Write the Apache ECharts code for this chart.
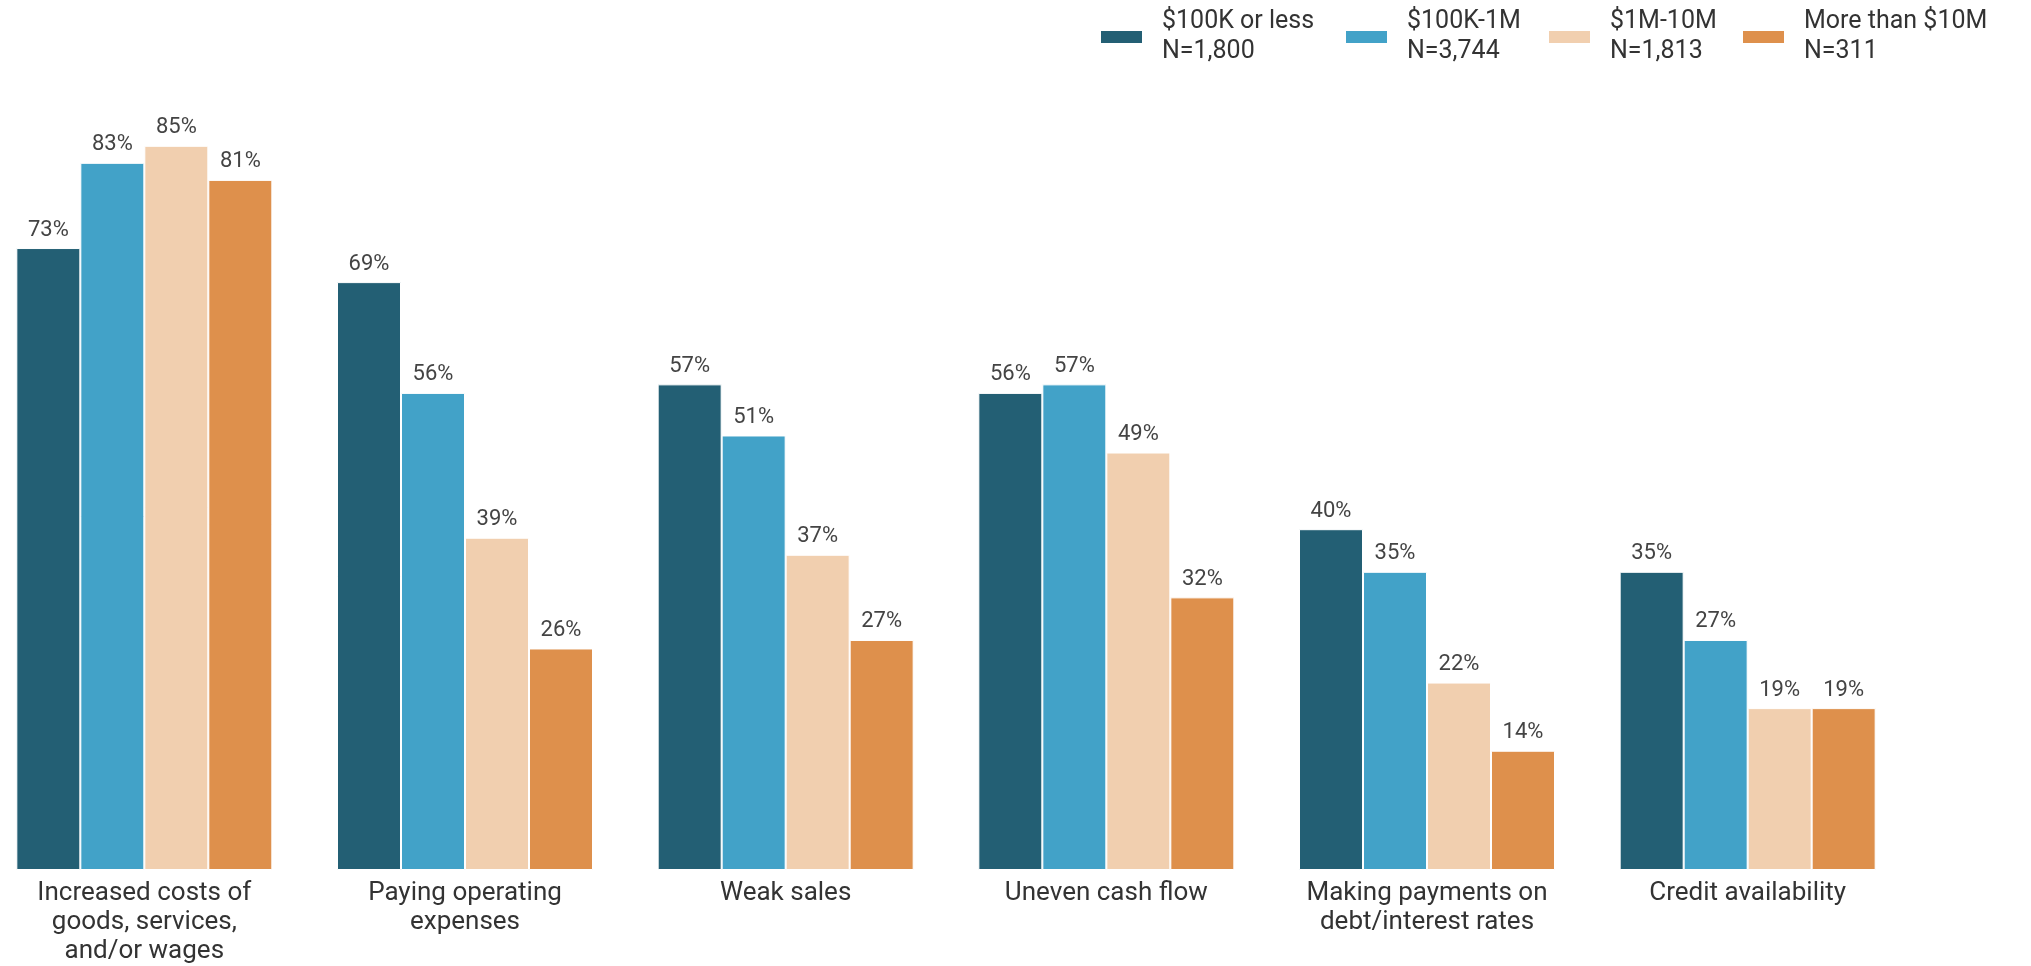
<!DOCTYPE html>
<html>
<head>
<meta charset="utf-8">
<script src="https://cdn.jsdelivr.net/npm/echarts@6/dist/echarts.min.js"></script>
<style>
html,body{margin:0;padding:0;background:#fff;overflow:hidden;width:2031px;height:966px;position:relative;}
#chart{position:absolute;left:-16px;top:0;width:2047px;height:966px;}
</style>
</head>
<body>
<div id="chart"></div>
<script>
const categories = [
  "Increased costs of\ngoods, services,\nand/or wages",
  "Paying operating\nexpenses",
  "Weak sales",
  "Uneven cash flow",
  "Making payments on\ndebt/interest rates",
  "Credit availability"
];
const seriesNames = ["$100K or less\nN=1,800", "$100K-1M\nN=3,744", "$1M-10M\nN=1,813", "More than $10M\nN=311"];
const upTo100K = [73, 69, 57, 56, 40, 35];
const from100KTo1M = [83, 56, 51, 57, 35, 27];
const from1MTo10M = [85, 39, 37, 49, 22, 19];
const over10M = [81, 26, 27, 32, 14, 19];

const colors = ["#235F74", "#42A2C8", "#F1CFAF", "#DE904C"];
const values = [upTo100K, from100KTo1M, from1MTo10M, over10M];
const shift = 16;
const legendLefts = [1099, 1344, 1547, 1741];
const font = "Roboto";

const chart = echarts.init(document.getElementById('chart'));
chart.setOption({
  animation: false,
  backgroundColor: '#fff',
  color: colors,
  legend: seriesNames.map((n, i) => ({
    data: [n],
    left: legendLefts[i] + shift,
    top: 7,
    padding: 0,
    itemWidth: 43,
    itemHeight: 14,
    icon: 'rect',
    selectedMode: false,
    formatter: name => name.split('\n').map(s => '{t|' + s + '}').join('\n'),
    textStyle: {
      fontFamily: font, fontSize: 25, color: '#333', lineHeight: 30,
      rich: { t: { fontFamily: font, fontSize: 25, color: '#333', lineHeight: 30, padding: [0, 0, 0, 14] } }
    }
  })),
  grid: { left: 0, width: 1924, top: 18, bottom: 96, containLabel: false },
  xAxis: {
    type: 'category',
    data: categories,
    axisLine: { show: false },
    axisTick: { show: false },
    axisLabel: { interval: 0, margin: 9, fontFamily: font, fontSize: 26, lineHeight: 29, color: '#333' }
  },
  yAxis: {
    type: 'value', min: 0, max: 100,
    show: false,
    splitLine: { show: false }
  },
  series: values.map((v, i) => ({
    name: seriesNames[i],
    type: 'bar',
    data: v,
    barWidth: 64,
    barGap: '0%',
    itemStyle: { color: colors[i], borderColor: '#fff', borderWidth: 1 },
    label: {
      show: true, position: 'top', distance: 7,
      formatter: '{c}%', fontFamily: font, fontSize: 22, color: '#444'
    }
  }))
});
</script>
</body>
</html>
